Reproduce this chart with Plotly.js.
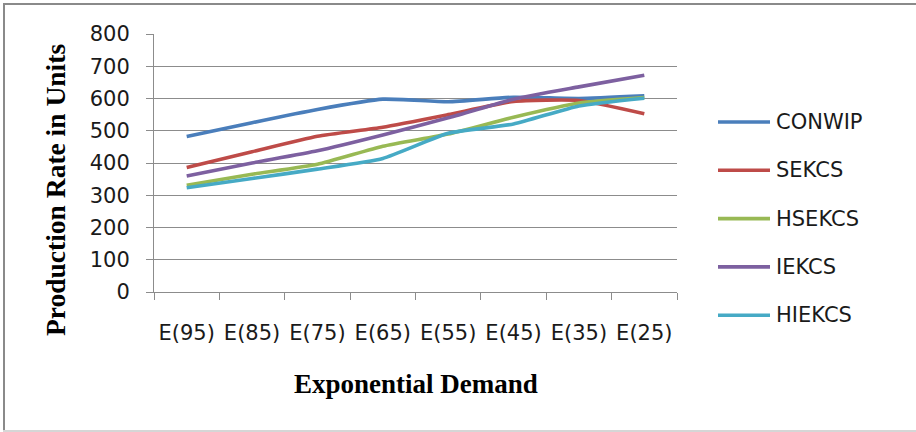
<!DOCTYPE html>
<html>
<head>
<meta charset="utf-8">
<script src="https://cdn.plot.ly/plotly-3.0.1.min.js"></script>
<style>
  html, body { margin: 0; padding: 0; background: #fff; }
  #wrap { position: relative; width: 916px; height: 432px; overflow: hidden; }
  #chart { width: 916px; height: 432px; }
  .edge { position: absolute; pointer-events: none; }
  #edgeTop { left: 3px; top: 3px; width: 913px; height: 2px; background: #8a8a8a; }
  #edgeLeft { left: 3px; top: 3px; width: 2px; height: 428px; background: #8a8a8a; }
  #edgeBottom { left: 3px; top: 430px; width: 913px; height: 2px; background: #d6d6d6; }
</style>
</head>
<body>
<div id="wrap">
  <div id="chart"></div>
  <div class="edge" id="edgeTop"></div>
  <div class="edge" id="edgeLeft"></div>
  <div class="edge" id="edgeBottom"></div>
</div>
<script>
// Demand levels on the x axis
const categories = ['E(95)', 'E(85)', 'E(75)', 'E(65)', 'E(55)', 'E(45)', 'E(35)', 'E(25)'];

// Production rate per control system
const seriesNames = ['CONWIP', 'SEKCS', 'HSEKCS', 'IEKCS', 'HIEKCS'];
const conwip = [482, 525, 566, 598, 590, 604, 600, 608];
const sekcs  = [386, 435, 483, 511, 550, 591, 594, 553];
const hsekcs = [331, 365, 396, 452, 490, 542, 586, 603];
const iekcs  = [360, 400, 438, 487, 540, 598, 636, 672];
const hiekcs = [323, 352, 381, 414, 492, 521, 577, 601];
const seriesValues = [conwip, sekcs, hsekcs, iekcs, hiekcs];

const yTicks = [0, 100, 200, 300, 400, 500, 600, 700, 800];

const colors = ['#4a7ebb', '#be4b48', '#98b954', '#7d60a0', '#46aac5'];

// Plot area in pixels
const W = 916, H = 432;
const L = 154, R = 239, T = 34, B = 140;
const pw = W - L - R, ph = H - T - B;
const px = x => (x - L) / pw;          // page x -> paper x
const py = y => (H - B - y) / ph;      // page y -> paper y

const labelFont = { family: 'DejaVu Sans', size: 21, color: '#1a1a1a' };

const traces = seriesNames.map((name, i) => ({
  type: 'scatter',
  mode: 'lines',
  name: name,
  x: categories,
  y: seriesValues[i],
  line: { color: colors[i], width: 3.6, shape: 'spline', smoothing: 0.5 },
  showlegend: false,
  hoverinfo: 'x+y+name'
}));

// Legend: long line swatches with labels on the right
const legendTop = 122, legendStep = 48.3;
const shapes = [];
const annotations = [];
seriesNames.forEach((name, i) => {
  const y = legendTop + i * legendStep;
  shapes.push({
    type: 'line', xref: 'paper', yref: 'paper',
    x0: px(718), x1: px(770), y0: py(y), y1: py(y),
    line: { color: colors[i], width: 3.6 }
  });
  annotations.push({
    xref: 'paper', yref: 'paper', x: px(774), y: py(y),
    xanchor: 'left', yanchor: 'middle', showarrow: false,
    text: name, font: labelFont
  });
});

// Axis titles
annotations.push({
  xref: 'paper', yref: 'paper', x: px(55), y: py(190),
  xanchor: 'center', yanchor: 'middle', showarrow: false, textangle: -90,
  text: '<b>Production Rate in Units</b>',
  font: { family: 'Liberation Serif', size: 27.5, color: '#000' }
});
annotations.push({
  xref: 'paper', yref: 'paper', x: px(416), y: py(384),
  xanchor: 'center', yanchor: 'middle', showarrow: false,
  text: '<b>Exponential Demand</b>',
  font: { family: 'Liberation Serif', size: 27, color: '#000' }
});

const layout = {
  width: W, height: H,
  margin: { l: L, r: R, t: T, b: B, pad: 0 },
  paper_bgcolor: '#fff', plot_bgcolor: '#fff',
  showlegend: false,
  xaxis: {
    type: 'category',
    range: [-0.5, categories.length - 0.5],
    showgrid: false, zeroline: false,
    showline: true, linecolor: '#8c8c8c', linewidth: 1,
    ticks: 'outside', tickson: 'boundaries', ticklen: 7, tickcolor: '#8c8c8c',
    tickangle: 0,
    ticklabelstandoff: 22,
    tickfont: labelFont
  },
  yaxis: {
    range: [0, 800],
    tickvals: yTicks,
    showgrid: true, gridcolor: '#8c8c8c', gridwidth: 1,
    zeroline: false,
    showline: true, linecolor: '#8c8c8c', linewidth: 1,
    ticks: 'outside', ticklen: 7, tickcolor: '#8c8c8c',
    ticklabelstandoff: 12,
    tickfont: labelFont
  },
  shapes: shapes,
  annotations: annotations
};

Plotly.newPlot('chart', traces, layout, { displayModeBar: false, staticPlot: true });
</script>
</body>
</html>
